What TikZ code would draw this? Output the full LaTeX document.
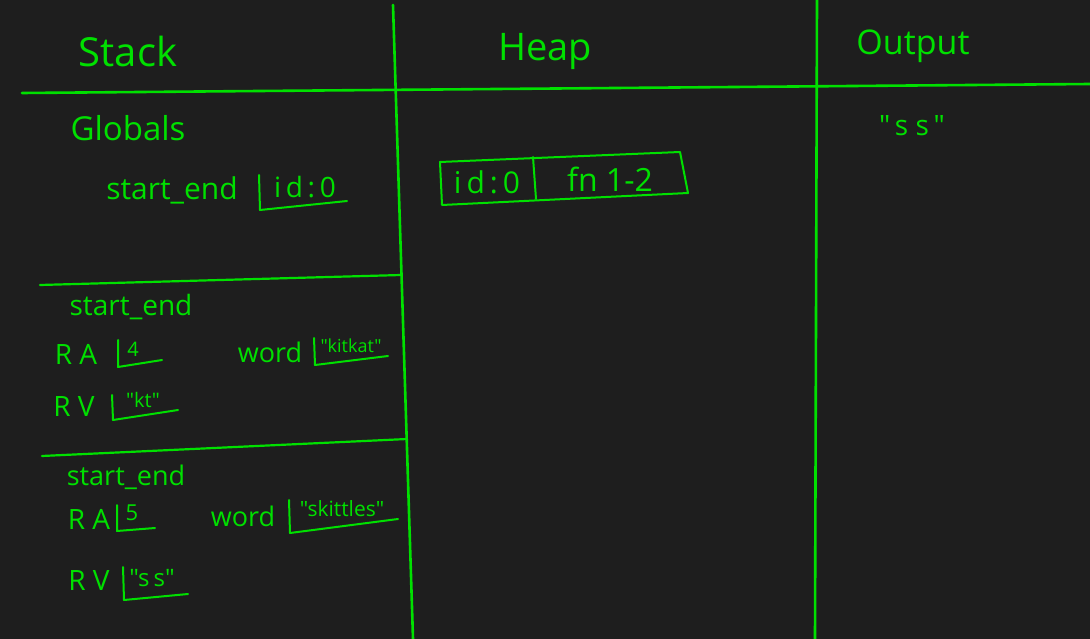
\documentclass[tikz,border=0pt]{standalone}
\usepackage{fontspec}
\setmainfont{Open Sans}[Ligatures=TeXOff]
\definecolor{bg}{HTML}{1E1E1E}
\definecolor{ink}{HTML}{00E000}
\tikzset{
  fs/.style={font=\fontsize{#1pt}{#1pt}\selectfont},
  lbl/.style={text=ink, inner sep=0pt, anchor=center},
  rule/.style={draw=ink, line width=2.6pt, line cap=round},
  valbox/.style={draw=ink, line width=2pt, line cap=round, line join=round},
}
\begin{document}
\begin{tikzpicture}[x=1pt, y=-1pt]
\useasboundingbox (0,0) rectangle (1090,639);
\fill[bg] (0,0) rectangle (1090,639);

% grid lines
\coordinate (v1t) at (393,5);   \coordinate (v1b) at (413,639);
\coordinate (v2t) at (817,0);   \coordinate (v2b) at (815,639);
\coordinate (hl) at (22,93);    \coordinate (hr) at (1090,84);
\draw[rule] (v1t) -- (v1b);
\draw[rule] (v2t) -- (v2b);
\draw[rule] (hl) -- (hr);
% frame dividers
\coordinate (f1l) at (40,285);  \coordinate (f1r) at (401,275);
\coordinate (f2l) at (42,456);  \coordinate (f2r) at (407,439);
\draw[rule, line width=2.2pt] (f1l) -- (f1r);
\draw[rule, line width=2.2pt] (f2l) -- (f2r);

% headers
\node[lbl, fs=40] (stack) at (128,52) {Stack};
\node[lbl, fs=38] (heap) at (545,52) {Heap};
\node[lbl, fs=34] (output) at (913,46) {Output};

% globals
\node[lbl, fs=33] (globals) at (128,128) {Globals};
\node[lbl, fs=30] (gname) at (172,190) {start\_end};
\draw[valbox] (259,175) -- (260,210) -- (347,201);
\node[lbl, fs=28] (gval) at (305,187) {i\,d\,:\,0};

% heap object
\draw[valbox] (440,162) -- (680,152) -- (688,193) -- (442,205) -- cycle;
\draw[valbox] (533,157) -- (536,199);
\node[lbl, fs=30] (hid) at (487,182) {i\,d\,:\,0};
\node[lbl, fs=32] (hfn) at (610,179) {fn 1-2};

% output
\node[lbl, fs=28] (out) at (912,126) {"\,s\ s\,"};

% frame 1
\node[lbl, fs=28] (f1name) at (131,307) {start\_end};
\node[lbl, fs=28] (f1ra) at (76,354) {R A};
\draw[valbox] (118,340) -- (118,367) -- (162,360);
\node[lbl, fs=20] (f1raval) at (133,349) {4};
\node[lbl, fs=27] (f1word) at (270,352) {word};
\draw[valbox] (314,338) -- (315,365) -- (388,356);
\node[lbl, fs=18] (f1wordval) at (351,346) {"kitkat"};
\node[lbl, fs=28] (f1rv) at (74,407) {R V};
\draw[valbox] (112,395) -- (113,420) -- (178,410);
\node[lbl, fs=20] (f1rvval) at (143,400) {"kt"};

% frame 2
\node[lbl, fs=27] (f2name) at (126,477) {start\_end};
\node[lbl, fs=28] (f2ra) at (89,519) {R A};
\draw[valbox] (117,505) -- (117,531) -- (155,528);
\node[lbl, fs=22] (f2raval) at (132,513) {5};
\node[lbl, fs=27] (f2word) at (243,516) {word};
\draw[valbox] (289,500) -- (290,533) -- (398,519);
\node[lbl, fs=21] (f2wordval) at (342,509) {"skittles"};
\node[lbl, fs=28] (f2rv) at (89,581) {R V};
\draw[valbox] (123,567) -- (124,600) -- (188,594);
\node[lbl, fs=24] (f2rvval) at (152,578) {"s\,s"};
\end{tikzpicture}
\end{document}
